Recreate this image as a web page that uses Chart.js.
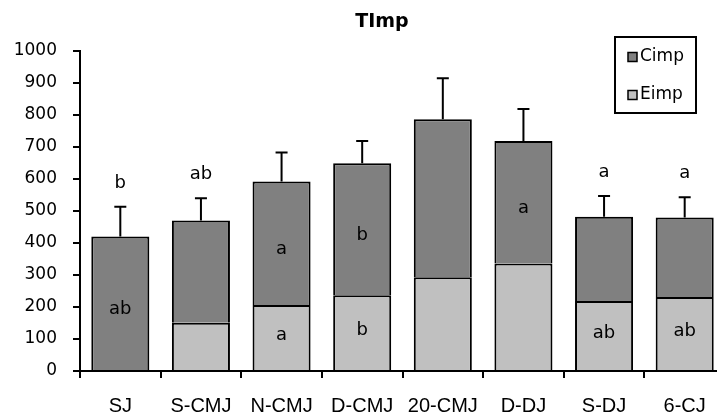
<!DOCTYPE html>
<html>
<head>
<meta charset="utf-8">
<script src="https://cdn.jsdelivr.net/npm/chart.js@4/dist/chart.umd.min.js"></script>
<style>
  html, body { margin: 0; padding: 0; background: #fff; overflow: hidden; }
  #wrap { width: 717px; height: 416px; overflow: hidden; }
</style>
</head>
<body>
<div id="wrap"><canvas id="chart" width="758" height="416"></canvas></div>
<script>
const categories = ['SJ', 'S-CMJ', 'N-CMJ', 'D-CMJ', '20-CMJ', 'D-DJ', 'S-DJ', '6-CJ'];
const eimp = [0, 151, 206, 237, 293, 336, 219, 231];
const cimp = [420, 319, 386, 412, 494, 383, 263, 249];
const errors = [93, 70, 91, 70, 128, 100, 65, 63];
const topLetters = ['b', 'ab', '', '', '', '', 'a', 'a'];
const cimpLetters = ['ab', '', 'a', 'b', '', 'a', '', ''];
const eimpLetters = ['', '', 'a', 'b', '', '', 'ab', 'ab'];
const yTicks = [0, 100, 200, 300, 400, 500, 600, 700, 800, 900, 1000];

// error bars, letters, title and the boxed legend
const extras = {
    id: 'extras',
    afterDatasetsDraw(chart) {
        const ctx = chart.ctx;
        const y = chart.scales.y;
        const meta = chart.getDatasetMeta(1);
        ctx.save();
        ctx.strokeStyle = '#000';
        ctx.lineWidth = 2;
        categories.forEach((c, i) => {
            const x = meta.data[i].x;
            const total = eimp[i] + cimp[i];
            const yb = y.getPixelForValue(total);
            const yt = y.getPixelForValue(total + errors[i]);
            ctx.beginPath();
            ctx.moveTo(x, yb);
            ctx.lineTo(x, yt);
            ctx.moveTo(x - 6, yt);
            ctx.lineTo(x + 6, yt);
            ctx.stroke();

            ctx.fillStyle = '#000';
            ctx.font = '18px "DejaVu Sans"';
            ctx.textAlign = 'center';
            ctx.textBaseline = 'middle';
            if (topLetters[i]) ctx.fillText(topLetters[i], x, yt - 24);
            if (cimpLetters[i]) ctx.fillText(cimpLetters[i], x, y.getPixelForValue(eimp[i] + cimp[i] / 2) + 6);
            if (eimpLetters[i]) ctx.fillText(eimpLetters[i], x, y.getPixelForValue(eimp[i] / 2) - 3);
        });

        // title
        ctx.font = 'bold 19px "DejaVu Sans"';
        ctx.fillText('TImp', 382, 22);

        // legend
        ctx.fillStyle = '#fff';
        ctx.fillRect(615, 37, 81, 76);
        ctx.strokeRect(615, 37, 81, 76);
        const items = [chart.data.datasets[1], chart.data.datasets[0]];
        ctx.font = '17px "DejaVu Sans"';
        ctx.textAlign = 'left';
        ctx.lineWidth = 1.5;
        items.forEach((ds, k) => {
            const cy = 57 + k * 38;
            ctx.fillStyle = ds.backgroundColor;
            ctx.fillRect(628, cy - 4.5, 9, 9);
            ctx.strokeRect(628, cy - 4.5, 9, 9);
            ctx.fillStyle = '#000';
            ctx.fillText(ds.label, 640, cy);
        });
        ctx.restore();
    }
};

new Chart(document.getElementById('chart').getContext('2d'), {
    type: 'bar',
    data: {
        labels: categories,
        datasets: [{
            label: 'Eimp',
            data: eimp,
            backgroundColor: '#c0c0c0',
            borderColor: '#000',
            borderWidth: 2,
            barPercentage: 0.72,
            categoryPercentage: 1
        }, {
            label: 'Cimp',
            data: cimp,
            backgroundColor: '#808080',
            borderColor: '#000',
            borderWidth: 2,
            barPercentage: 0.72,
            categoryPercentage: 1
        }]
    },
    options: {
        responsive: false,
        animation: false,
        layout: { padding: { top: 51, right: 33, left: 0, bottom: 0 } },
        plugins: {
            legend: { display: false },
            tooltip: { enabled: false }
        },
        scales: {
            x: {
                stacked: true,
                afterFit: s => { s.height = 45; },
                border: { color: '#000', width: 2 },
                grid: { drawOnChartArea: false, drawTicks: true, tickLength: 7, color: '#000', lineWidth: 2 },
                ticks: { color: '#000', padding: 16, font: { family: '"Liberation Sans"', size: 20 } }
            },
            y: {
                stacked: true,
                min: 0,
                max: 1000,
                afterFit: s => { s.width = 80; },
                afterBuildTicks: s => { s.ticks = yTicks.map(v => ({ value: v })); },
                border: { color: '#000', width: 2 },
                grid: { drawOnChartArea: false, drawTicks: true, tickLength: 7, color: '#000', lineWidth: 2 },
                ticks: {
                    color: '#000',
                    padding: 16,
                    font: { family: '"DejaVu Sans"', size: 17 },
                    callback: v => String(v)
                }
            }
        }
    },
    plugins: [extras]
});
</script>
</body>
</html>
